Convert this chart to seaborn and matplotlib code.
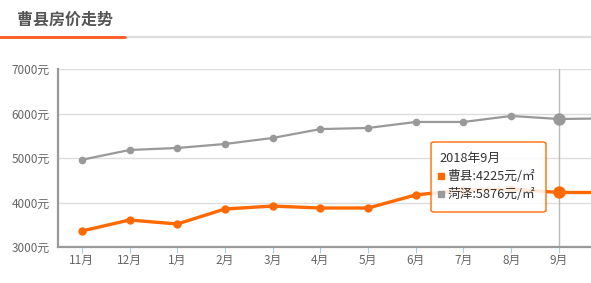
import matplotlib
matplotlib.use("Agg")
import matplotlib.pyplot as plt
import seaborn as sns
import pandas as pd
from matplotlib.patches import FancyBboxPatch, Rectangle
from matplotlib.lines import Line2D

months = ["11月", "12月", "1月", "2月", "3月", "4月", "5月", "6月", "7月", "8月", "9月", "10月"]
caoxian = [3360, 3607, 3517, 3854, 3920, 3876, 3876, 4170, 4280, 4300, 4225, 4225]
heze = [4960, 5180, 5225, 5315, 5450, 5650, 5675, 5810, 5810, 5945, 5876, 5890]
yticks = [3000, 4000, 5000, 6000, 7000]
title = "曹县房价走势"
tip_title = "2018年9月"
tip_lines = ["曹县:4225元/㎡", "菏泽:5876元/㎡"]
hl_idx = 10

ORANGE = "#ff6a00"
GRAY = "#999999"

sns.set_theme(style="white")
plt.rcParams['font.family'] = ['Noto Sans CJK SC', 'DejaVu Sans']

W, H = 591, 283
fig = plt.figure(figsize=(W / 100, H / 100), dpi=100)

# header
fig.text(17 / W, 1 - 20 / H, title, fontsize=11.5, fontweight="bold", color="#555555",
         ha="left", va="center")
fig.add_artist(Line2D([0, 1], [1 - 37 / H, 1 - 37 / H], color="#dddddd", lw=1.6))
fig.add_artist(Line2D([0, 125 / W], [1 - 37 / H, 1 - 37 / H], color="#ff5a1f", lw=2.0))

ax_left, ax_top, ax_bot = 58, 69, 247
spacing = 47.7
ax = fig.add_axes([ax_left / W, 1 - ax_bot / H, len(months) * spacing / W, (ax_bot - ax_top) / H])

df = pd.DataFrame({"x": list(range(len(months))) * 2,
                   "price": caoxian + heze,
                   "city": ["曹县"] * len(months) + ["菏泽"] * len(months)})

sns.lineplot(data=df[df.city == "菏泽"], x="x", y="price", ax=ax, color=GRAY, lw=1.6,
             marker="o", markersize=5.5, markeredgewidth=0, legend=False, zorder=3)
sns.lineplot(data=df[df.city == "曹县"], x="x", y="price", ax=ax, color=ORANGE, lw=2.4,
             marker="o", markersize=6, markeredgewidth=0, legend=False, zorder=4)

# highlighted points
ax.scatter([hl_idx], [heze[hl_idx]], s=80, color=GRAY, zorder=5, linewidths=0)
ax.scatter([hl_idx], [caoxian[hl_idx]], s=80, color=ORANGE, zorder=5, linewidths=0)
ax.axvline(hl_idx, color="#bbbbbb", lw=1, zorder=2)

ax.set_xlim(-0.5, len(months) - 0.5)
ax.set_ylim(3000, 7000)
ax.set_yticks(yticks)
ax.set_yticklabels([f"{v}元" for v in yticks], fontsize=8.5, color="#666666")
ax.set_xticks(range(len(months)))
# the last category lies beyond the visible canvas, so its label is not shown
ax.set_xticklabels(months[:-1] + [""], fontsize=8.5, color="#666666")
ax.set_xlabel("")
ax.set_ylabel("")
ax.grid(axis="y", color="#dddddd", lw=1)
ax.set_axisbelow(True)
for s in ["top", "right"]:
    ax.spines[s].set_visible(False)
ax.spines["left"].set_color("#999999")
ax.spines["left"].set_linewidth(1.6)
ax.spines["bottom"].set_color("#999999")
ax.spines["bottom"].set_linewidth(1.6)
ax.tick_params(axis="x", length=4, width=0.8, color="#aaccee", pad=1, direction="out", bottom=True)
ax.tick_params(axis="y", length=0, pad=6)

# tooltip
bx0, by0, bw, bh = 431, 142, 115, 70
fig.add_artist(FancyBboxPatch((bx0 / W, 1 - (by0 + bh) / H), bw / W, bh / H,
                              boxstyle="round,pad=0,rounding_size=0.006",
                              transform=fig.transFigure, facecolor=(1, 1, 1, 0.85),
                              edgecolor=ORANGE, lw=1.0, zorder=10))
fig.text(439 / W, 1 - 158 / H, tip_title, fontsize=9.2, color="#333333", va="center", zorder=11)
for i, (t, c) in enumerate(zip(tip_lines, [ORANGE, GRAY])):
    yy = 176 + i * 18
    fig.add_artist(Rectangle((438 / W, 1 - (yy + 3) / H), 6 / W, 6 / H,
                             transform=fig.transFigure, color=c, zorder=11))
    fig.text(447 / W, 1 - yy / H, t, fontsize=9.2, color="#333333", va="center", zorder=11)

fig.savefig("out.png", dpi=100)
